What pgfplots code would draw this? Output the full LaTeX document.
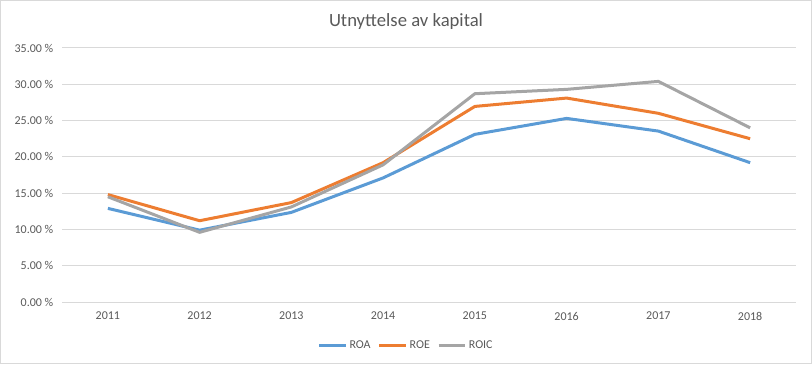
\documentclass[border=0pt]{standalone}
\usepackage{pgfplots}
\pgfplotsset{compat=1.18}
\usepackage{fontspec}
\setmainfont{Carlito}
\definecolor{roa}{HTML}{5B9BD5}
\definecolor{roe}{HTML}{ED7D31}
\definecolor{roic}{HTML}{A5A5A5}
\definecolor{txt}{HTML}{595959}
\definecolor{grid}{HTML}{D9D9D9}
\begin{document}
\begin{tikzpicture}
\draw[draw=grid, line width=0.75pt] (0.375pt,0.375pt) rectangle (608.625pt,272.625pt);
\useasboundingbox (0,0) rectangle (609pt,273pt);
\node[text=txt, font=\fontsize{14}{16}\selectfont] at (304.5pt,256.5pt) {Utnyttelse av kapital};
\begin{axis}[
  at={(46.5pt,46.5pt)}, anchor=south west,
  scale only axis, width=550.5pt, height=190.5pt,
  xmin=-0.5, xmax=7.5, ymin=0, ymax=35,
  xtick={0,...,7}, xticklabels={2011,2012,2013,2014,2015,2016,2017,2018},
  ytick={0,5,...,35},
  yticklabel={\pgfmathprintnumber[fixed,fixed zerofill,precision=2]{\tick}~\%},
  /pgf/number format/assume math mode=true,
  axis line style={draw=none},
  major tick length=0pt,
  ymajorgrids, grid style={draw=grid, line width=0.75pt},
  ticklabel style={text=txt, font=\fontsize{9}{10}\selectfont},
  yticklabel style={xshift=-3pt},
  xticklabel style={yshift=-4pt},
  legend style={at={(0.469,-0.17)}, anchor=center, draw=none, fill=none,
    legend columns=3, font=\fontsize{9}{10}\selectfont, text=txt,
    nodes={inner xsep=1.5pt},
    /tikz/every even column/.append style={column sep=4pt}},
  legend image code/.code={\draw[#1, line width=2.25pt] (0pt,0pt) -- (20pt,0pt);},
  every axis plot/.append style={line width=2.25pt, mark=none, line join=round},
]
\addplot[color=roa] coordinates {(0,12.9) (1,9.9) (2,12.35) (3,17.1) (4,23.1) (5,25.3) (6,23.55) (7,19.2)};
\addplot[color=roe] coordinates {(0,14.8) (1,11.2) (2,13.7) (3,19.2) (4,26.95) (5,28.1) (6,26.0) (7,22.5)};
\addplot[color=roic] coordinates {(0,14.5) (1,9.6) (2,13.1) (3,18.9) (4,28.7) (5,29.3) (6,30.4) (7,24.0)};
\legend{ROA,ROE,ROIC}
\end{axis}
\end{tikzpicture}
\end{document}
